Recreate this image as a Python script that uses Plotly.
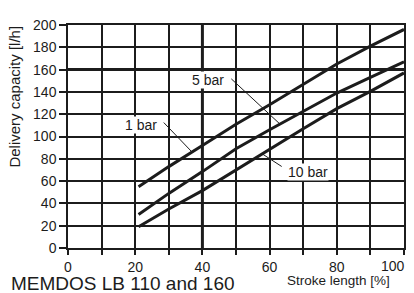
import numpy as np
import plotly.graph_objects as go

stroke = [21, 30, 40, 50, 60, 70, 80, 90, 100]
bar1 = [55, 73, 92, 111, 128.5, 146.5, 165, 181, 196]
bar5 = [30, 49, 68.5, 89, 106, 122.5, 139, 153, 167]
bar10 = [19, 35, 51.5, 70, 89, 107, 125, 140.5, 157]
series_names = ["1 bar", "5 bar", "10 bar"]
x_ticks = [0, 20, 40, 60, 80, 100]
x_tick_labels = ["0", "20", "40", "60", "80", "100"]
y_ticks = [0, 20, 40, 60, 80, 100, 120, 140, 160, 180, 200]

INK = "#1c1c1c"
FONT = "Liberation Sans, Arial, sans-serif"

fig = go.Figure()
for name, ys in zip(series_names, [bar1, bar5, bar10]):
    fig.add_trace(go.Scatter(x=stroke, y=ys, mode="lines", name=name,
                             line=dict(color=INK, width=3), showlegend=False,
                             hoverinfo="skip"))

# heavier gridlines
fig.add_shape(type="line", xref="x", yref="y", x0=40, x1=40, y0=0, y1=200,
              line=dict(color=INK, width=3), layer="below")
fig.add_shape(type="line", xref="x", yref="y", x0=0, x1=100, y0=160, y1=160,
              line=dict(color=INK, width=3), layer="below")

# label positions (data coords) and leader lines: text pos, leader start, curve x
labels = [
    ("1 bar", bar1, (21.8, 110.4), (28.5, 112.5), 36.9),
    ("5 bar", bar5, (41.7, 150.7), (48.6, 151.7), 63.1),
    ("10 bar", bar10, (71.5, 68.6), (63.6, 73.1), 57.7),
]
for text, ys, (tx, ty), (lx, ly), cx in labels:
    cy = float(np.interp(cx, stroke, ys))
    fig.add_shape(type="line", xref="x", yref="y", x0=lx, y0=ly, x1=cx, y1=cy,
                  line=dict(color=INK, width=1))
    fig.add_annotation(x=tx, y=ty, xref="x", yref="y", text=text, showarrow=False,
                       font=dict(family=FONT, size=14, color=INK),
                       bgcolor="white", borderpad=0)

fig.add_annotation(x=-0.177, y=-0.158, xref="paper", yref="paper",
                   text="MEMDOS LB 110 and 160", showarrow=False,
                   xanchor="left", yanchor="middle",
                   font=dict(family=FONT, size=19, color=INK))
fig.add_annotation(x=0.964, y=-0.146, xref="paper", yref="paper",
                   text="Stroke length [%]", showarrow=False,
                   xanchor="right", yanchor="middle",
                   font=dict(family=FONT, size=13.5, color=INK))
fig.add_annotation(x=-0.16, y=0.68, xref="paper", yref="paper",
                   text="Delivery capacity [l/h]", showarrow=False, textangle=-90,
                   xanchor="center", yanchor="middle",
                   font=dict(family=FONT, size=15, color=INK))
# last x tick label, kept inside the page (right-aligned at its tick)
fig.add_annotation(x=x_ticks[-1], y=0, xref="x", yref="paper",
                   text=x_tick_labels[-1], showarrow=False,
                   xanchor="right", yanchor="top", xshift=3, yshift=-8,
                   font=dict(family=FONT, size=14, color=INK))

tick_text = x_tick_labels[:-1] + [""]
fig.update_xaxes(range=[0, 100], tickvals=x_ticks, ticktext=tick_text,
                 ticks="outside", ticklen=5,
                 tickwidth=1.5, tickcolor=INK, automargin=False,
                 showgrid=True, gridcolor=INK, gridwidth=1.5,
                 minor=dict(dtick=10, tick0=0, ticks="outside", ticklen=5,
                            tickcolor=INK, showgrid=True, gridcolor=INK, gridwidth=1.5),
                 showline=True, linecolor=INK, linewidth=1.5, mirror=True,
                 zeroline=False, fixedrange=True,
                 tickfont=dict(family=FONT, size=14, color=INK))
fig.update_yaxes(range=[0, 200], tickvals=y_ticks, ticks="outside", ticklen=7,
                 tickwidth=1.5, tickcolor=INK, automargin=False,
                 showgrid=True, gridcolor=INK, gridwidth=1.5,
                 showline=True, linecolor=INK, linewidth=1.5, mirror=True,
                 zeroline=False, fixedrange=True,
                 tickfont=dict(family=FONT, size=14, color=INK))

fig.update_layout(width=414, height=293,
                  margin=dict(l=67.5, r=9.8, t=25, b=44.7, pad=0, autoexpand=False),
                  plot_bgcolor="white", paper_bgcolor="white",
                  font=dict(family=FONT, color=INK))

fig.write_html("out.html", config=dict(displayModeBar=False),
               post_script="document.body.style.margin='0';document.body.style.overflow='hidden';")
